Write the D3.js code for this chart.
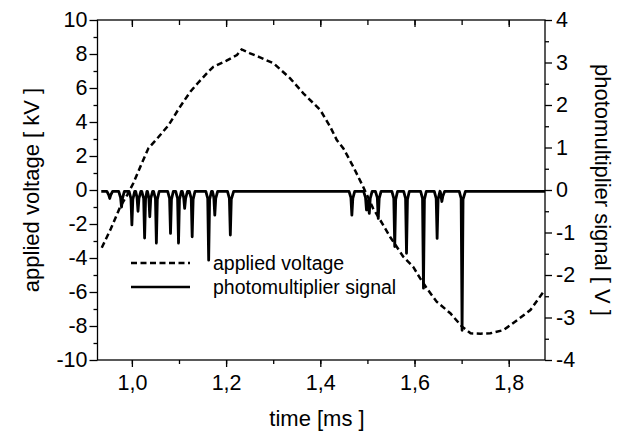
<!DOCTYPE html>
<html><head><meta charset="utf-8">
<script src="https://cdnjs.cloudflare.com/ajax/libs/d3/7.8.5/d3.min.js"></script>
<style>body{margin:0;background:#fff}svg{display:block}text{font-family:"Liberation Sans",Arial,sans-serif;fill:#000}</style>
</head><body><svg id="c" width="626" height="432"></svg>
<script>
// ---- data ----
const xTicks = [1.0, 1.2, 1.4, 1.6, 1.8];
const yLeftTicks = [10, 8, 6, 4, 2, 0, -2, -4, -6, -8, -10];
const yRightTicks = [4, 3, 2, 1, 0, -1, -2, -3, -4];
const legendLabels = ["applied voltage", "photomultiplier signal"];
// applied voltage [kV] vs time [ms]
const voltageTime = [0.936,0.955,0.975,0.99,1.003,1.02,1.035,1.056,1.078,1.1,1.124,1.142,1.159,1.173,1.2,1.223,1.233,1.251,1.272,1.301,1.336,1.364,1.4,1.421,1.435,1.449,1.47,1.491,1.512,1.527,1.548,1.576,1.597,1.612,1.626,1.647,1.676,1.701,1.719,1.74,1.761,1.789,1.818,1.846,1.876];
const voltageKV   = [-3.4,-2.3,-1.0,-0.3,0.4,1.5,2.45,3.1,3.82,4.8,5.78,6.35,6.86,7.25,7.6,7.94,8.27,8.04,7.8,7.45,6.57,5.69,4.7,3.72,2.94,2.45,1.37,0.19,-1.08,-1.76,-2.75,-3.92,-4.51,-5.2,-5.78,-6.57,-7.25,-8.04,-8.43,-8.45,-8.43,-8.24,-7.65,-7.06,-5.9];
// photomultiplier signal [V] vs time [ms]
const signalTime = [0.935,
 0.947,0.951,0.953,0.955,0.959,
 0.972,0.976,0.978,0.980,0.984,
 0.994,0.998,1.000,1.002,1.006,
 1.008,1.011,1.013,1.015,1.019,
 1.021,1.025,1.027,1.029,1.032,
 1.033,1.036,1.038,1.040,1.044,
 1.046,1.050,1.052,1.054,1.058,
 1.076,1.080,1.082,1.084,1.088,
 1.093,1.097,1.099,1.101,1.105,
 1.107,1.110,1.112,1.114,1.118,
 1.122,1.126,1.128,1.130,1.134,
 1.157,1.161,1.163,1.165,1.169,
 1.171,1.174,1.176,1.178,1.182,
 1.203,1.207,1.209,1.211,1.216,
 1.461,1.465,1.467,1.469,1.473,
 1.492,1.496,1.498,1.500,1.501,1.504,1.506,1.510,
 1.517,1.521,1.523,1.525,1.529,
 1.552,1.556,1.558,1.560,1.564,
 1.577,1.581,1.583,1.585,1.589,
 1.613,1.617,1.619,1.621,1.625,
 1.642,1.646,1.648,1.650,1.654,
 1.655,1.658,1.660,1.664,
 1.695,1.699,1.701,1.703,1.708,
 1.877];
const signalV = [-0.03,
 -0.03,-0.12,-0.2,-0.12,-0.03,
 -0.03,-0.18,-0.4,-0.2,-0.03,
 -0.03,-0.2,-0.82,-0.22,-0.03,
 -0.03,-0.18,-0.5,-0.2,-0.03,
 -0.03,-0.2,-1.13,-0.22,-0.03,
 -0.03,-0.18,-0.63,-0.2,-0.03,
 -0.03,-0.2,-1.25,-0.22,-0.03,
 -0.03,-0.2,-1.02,-0.22,-0.03,
 -0.03,-0.2,-1.25,-0.22,-0.03,
 -0.03,-0.18,-0.43,-0.2,-0.03,
 -0.03,-0.2,-1.1,-0.22,-0.03,
 -0.03,-0.2,-1.65,-0.22,-0.03,
 -0.03,-0.18,-0.59,-0.2,-0.03,
 -0.03,-0.2,-1.06,-0.22,-0.03,
 -0.03,-0.18,-0.59,-0.2,-0.03,
 -0.03,-0.18,-0.47,-0.25,-0.3,-0.55,-0.2,-0.03,
 -0.03,-0.18,-0.67,-0.2,-0.03,
 -0.03,-0.2,-1.33,-0.22,-0.03,
 -0.03,-0.2,-1.49,-0.22,-0.03,
 -0.03,-0.2,-2.31,-0.22,-0.03,
 -0.03,-0.2,-1.14,-0.22,-0.03,
 -0.05,-0.27,-0.15,-0.03,
 -0.03,-0.2,-3.3,-0.22,-0.03,
 -0.03];

// ---- layout ----
const L = 97.5, R = 545, T = 20, B = 360;
const svg = d3.select("#c");
const x = d3.scaleLinear().domain([0.927, 1.877]).range([L, R]);
const yL = d3.scaleLinear().domain([-10, 10]).range([B, T]);
const yR = d3.scaleLinear().domain([-4, 4]).range([B, T]);
const fmtX = d => d3.format(".1f")(d).replace(".", ",");

const g = svg.append("g");
const xMinor = d3.range(1.0, 1.9, 0.1).map(v => +v.toFixed(1));
function styleAxis(sel){ sel.select(".domain").remove(); sel.selectAll("line").attr("stroke","#000").attr("stroke-width",1.3); sel.selectAll("text").style("font-size","21.5px").attr("fill","#000"); }

g.append("g").attr("transform",`translate(0,${B})`)
  .call(d3.axisBottom(x).tickValues(xMinor).tickSize(4).tickFormat("")).call(styleAxis);
g.append("g").attr("transform",`translate(0,${B})`)
  .call(d3.axisBottom(x).tickValues(xTicks).tickSize(7).tickPadding(8).tickFormat(fmtX)).call(styleAxis);
g.append("g").attr("transform",`translate(0,${T})`)
  .call(d3.axisBottom(x).tickValues(xMinor).tickSize(5).tickFormat("")).call(styleAxis);
g.append("g").attr("transform",`translate(0,${T})`)
  .call(d3.axisBottom(x).tickValues(xTicks).tickSize(7).tickFormat("")).call(styleAxis);

g.append("g").attr("transform",`translate(${L},0)`)
  .call(d3.axisLeft(yL).tickValues(d3.range(-9, 10, 2)).tickSize(4).tickFormat("")).call(styleAxis);
g.append("g").attr("transform",`translate(${L},0)`)
  .call(d3.axisLeft(yL).tickValues(yLeftTicks).tickSize(8).tickPadding(2).tickFormat(d => String(d))).call(styleAxis);

g.append("g").attr("transform",`translate(${R},0)`)
  .call(d3.axisRight(yR).tickValues(d3.range(-3.5, 4, 1)).tickSize(4).tickFormat("")).call(styleAxis);
g.append("g").attr("transform",`translate(${R},0)`)
  .call(d3.axisRight(yR).tickValues(yRightTicks).tickSize(7).tickPadding(4).tickFormat(d => String(d))).call(styleAxis);

// frame
svg.append("rect").attr("x",L).attr("y",T).attr("width",R-L).attr("height",B-T)
  .attr("fill","none").attr("stroke","#000").attr("stroke-width",1.3);

// signal
const sig = signalTime.map((t,i)=>[t, signalV[i]]);
svg.append("path").datum(sig)
  .attr("d", d3.line().x(d=>x(d[0])).y(d=>yR(d[1])))
  .attr("fill","none").attr("stroke","#000").attr("stroke-width",2.8).attr("stroke-linejoin","round");

// voltage
const volt = voltageTime.map((t,i)=>[t, voltageKV[i]]);
svg.append("path").datum(volt)
  .attr("d", d3.line().x(d=>x(d[0])).y(d=>yL(d[1])))
  .attr("fill","none").attr("stroke","#000").attr("stroke-width",2.5).attr("stroke-dasharray","6,3.5");

// legend
const leg = svg.append("g");
leg.append("line").attr("x1",131).attr("x2",190).attr("y1",263).attr("y2",263)
  .attr("stroke","#000").attr("stroke-width",2.5).attr("stroke-dasharray","6,3.5");
leg.append("line").attr("x1",131).attr("x2",190).attr("y1",287).attr("y2",287)
  .attr("stroke","#000").attr("stroke-width",2.6);
leg.append("text").attr("x",213).attr("y",270).style("font-size","19.5px").text(legendLabels[0]);
leg.append("text").attr("x",213).attr("y",294).style("font-size","19.5px").text(legendLabels[1]);

// titles
svg.append("text").attr("transform","translate(39,190) rotate(-90)").attr("text-anchor","middle")
  .style("font-size","22px").text("applied voltage [ kV ]");
svg.append("text").attr("transform","translate(595,190) rotate(90)").attr("text-anchor","middle")
  .style("font-size","22px").text("photomultiplier signal [ V ]");
svg.append("text").attr("x",317).attr("y",426).attr("text-anchor","middle")
  .style("font-size","22px").text("time [ms ]");
</script></body></html>
